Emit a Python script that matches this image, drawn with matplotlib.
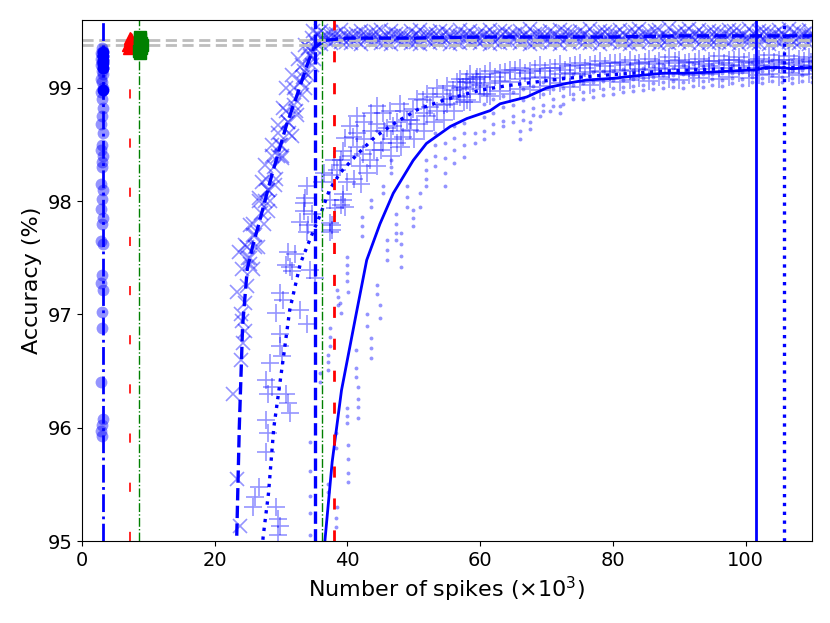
import matplotlib
matplotlib.use("Agg")
import matplotlib.pyplot as plt

# ---------------- data ----------------
# mean curves
dash_x = [22.6, 23.3, 23.7, 24.2, 24.9, 25.7, 26.6, 28.6, 30.8, 32.6, 33.9, 34.9, 36.6, 40, 50, 60, 70, 80, 90, 100, 110]
dash_y = [94.0, 95.0, 96.0, 96.9, 97.4, 97.6, 97.79, 98.23, 98.67, 98.97, 99.2, 99.35, 99.42, 99.44, 99.44, 99.45, 99.45, 99.45, 99.46, 99.46, 99.46]

dot_line_x = [26.8, 27.3, 28.1, 28.9, 30.3, 31.3, 32.9, 34.4, 35.9, 37.3, 38.9, 41.4, 44.2, 47.4, 50.6, 54.4, 57.5, 60, 64, 68, 73, 78, 83, 88, 92.6, 97, 101, 105, 110]
dot_line_y = [94.7, 95.04, 95.42, 96.0, 96.6, 97.04, 97.45, 97.67, 97.88, 98.1, 98.25, 98.41, 98.57, 98.70, 98.81, 98.89, 98.94, 98.98, 99.02, 99.05, 99.085, 99.11, 99.13, 99.15, 99.16, 99.17, 99.17, 99.18, 99.18]

solid_x = [36.3, 36.6, 37.7, 39.1, 41.3, 42.9, 44.9, 46.9, 49.9, 51.9, 55.5, 58, 61.5, 63, 67, 70, 73, 76, 80, 84, 87.6, 91, 95, 98, 101.6, 103, 105, 107, 110]
solid_y = [94.7, 95.0, 95.7, 96.33, 97.0, 97.48, 97.8, 98.07, 98.36, 98.51, 98.66, 98.73, 98.8, 98.86, 98.92, 99.0, 99.04, 99.07, 99.085, 99.11, 99.13, 99.13, 99.14, 99.15, 99.16, 99.18, 99.18, 99.17, 99.18]

# individual runs: 'x' markers
cross_rise_x = [22.8, 23.3, 23.8, 23.3, 24.1, 24.6, 24.3, 25.3, 23.6, 24.0, 24.5, 23.9, 24.8,
                24.6, 25.3, 26.6, 27.1, 27.6, 28.6, 29.6, 30.3, 30.8, 31.6, 32.6, 33.6, 34.6,
                26.0, 28.1, 29.1, 30.1, 31.6, 32.4, 33.1, 34.1, 34.9,
                25.0, 25.8, 27.5, 28.0, 29.5, 30.0, 31.0, 32.0, 33.0, 33.5, 34.3, 35.2, 35.5, 34.8, 35.0,
                24.1, 24.9, 25.8, 26.7, 27.7, 28.6, 29.6, 30.7, 32.0, 33.1, 34.1,
                25.7, 26.5, 27.4, 28.3, 29.3, 30.2, 31.2, 32.3, 33.6, 34.7,
                25.3, 26.1, 27.0, 28.0, 29.0, 29.9, 31.0, 32.1, 33.3, 34.4]
cross_rise_y = [96.30, 95.55, 95.13, 97.20, 96.94, 96.85, 96.75, 97.45, 97.55, 97.00, 97.10, 96.60, 97.25,
                97.61, 97.79, 98.03, 98.17, 98.32, 98.50, 98.67, 98.82, 99.00, 99.11, 99.26, 99.38, 99.44,
                97.60, 97.91, 98.14, 98.38, 98.58, 98.76, 98.94, 99.11, 99.26,
                97.50, 97.70, 98.00, 98.10, 98.40, 98.50, 98.70, 98.85, 99.05, 99.15, 99.30, 99.40, 99.48, 99.50, 99.36,
                97.40, 97.60, 97.80, 98.00, 98.20, 98.40, 98.60, 98.80, 99.00, 99.20, 99.35,
                97.40, 97.60, 97.80, 98.00, 98.20, 98.40, 98.60, 98.80, 99.00, 99.20,
                97.50, 97.70, 97.90, 98.10, 98.30, 98.50, 98.70, 98.90, 99.10, 99.28]

plateau_x = [36, 37.5, 39, 40.5, 42, 43.5, 45, 46.5, 48, 49.5, 51, 52.5, 54, 55.5, 57, 58.5, 60, 61.5, 63, 64.5,
             66, 67.5, 69, 70.5, 72, 73.5, 75, 76.5, 78, 79.5, 81, 82.5, 84, 85.5, 87, 88.5, 90, 91.5, 93, 94.5,
             96, 97.5, 99, 100.5, 102, 103.5, 105, 106.5, 108, 109.5]
cross_hi = [99.50, 99.49, 99.51, 99.48, 99.50, 99.49, 99.51, 99.50, 99.48, 99.50, 99.51, 99.49, 99.50, 99.48, 99.51,
            99.50, 99.49, 99.51, 99.50, 99.48, 99.50, 99.52, 99.49, 99.50, 99.51, 99.49, 99.50, 99.52, 99.50, 99.49,
            99.51, 99.50, 99.52, 99.49, 99.51, 99.53, 99.50, 99.52, 99.51, 99.50, 99.49, 99.51, 99.50, 99.52, 99.50,
            99.49, 99.51, 99.52, 99.50, 99.51]
cross_mid = [99.44, 99.46, 99.45, 99.44, 99.46, 99.45, 99.44, 99.46, 99.45, 99.44, 99.45, 99.46, 99.44, 99.45, 99.46,
             99.45, 99.44, 99.46, 99.45, 99.46, 99.44, 99.45, 99.46, 99.45, 99.44, 99.46, 99.45, 99.44, 99.46, 99.45,
             99.46, 99.44, 99.45, 99.46, 99.45, 99.44, 99.46, 99.45, 99.46, 99.44, 99.45, 99.46, 99.45, 99.44, 99.46,
             99.45, 99.46, 99.44, 99.45, 99.46]
cross_lo = [99.39, 99.40, 99.41, 99.40, 99.39, 99.41, 99.40, 99.39, 99.41, 99.40, 99.39, 99.40, 99.41, 99.39, 99.40,
            99.41, 99.40, 99.39, 99.40, 99.41, 99.40, 99.39, 99.41, 99.40, 99.39, 99.40, 99.41, 99.40, 99.39, 99.41,
            99.40, 99.39, 99.40, 99.41, 99.39, 99.40, 99.41, 99.40, 99.39, 99.40, 99.41, 99.40, 99.39, 99.41, 99.40,
            99.39, 99.40, 99.41, 99.40, 99.39]
plateau_x2 = [36.8, 38.3, 39.8, 41.3, 42.8, 44.3, 45.8, 47.3, 48.8, 50.3, 51.8, 53.3, 54.8, 56.3, 57.8, 59.3, 60.8,
              62.3, 63.8, 65.3, 66.8, 68.3, 69.8, 71.3, 72.8, 74.3, 75.8, 77.3, 78.8, 80.3, 81.8, 83.3, 84.8, 86.3,
              87.8, 89.3, 90.8, 92.3, 93.8, 95.3, 96.8, 98.3, 99.8, 101.3, 102.8, 104.3, 105.8, 107.3, 108.8, 109.9]
cross_r2a = [99.47, 99.48, 99.46, 99.48, 99.47, 99.49, 99.47, 99.48, 99.46, 99.48, 99.47, 99.48, 99.49, 99.47, 99.48,
             99.46, 99.48, 99.47, 99.49, 99.48, 99.47, 99.48, 99.46, 99.48, 99.49, 99.47, 99.48, 99.47, 99.49, 99.48,
             99.47, 99.49, 99.48, 99.50, 99.47, 99.48, 99.49, 99.48, 99.47, 99.49, 99.48, 99.50, 99.47, 99.48, 99.49,
             99.48, 99.47, 99.49, 99.48, 99.47]
cross_r2b = [99.42, 99.43, 99.41, 99.42, 99.43, 99.42, 99.41, 99.43, 99.42, 99.41, 99.43, 99.42, 99.42, 99.41, 99.43,
             99.42, 99.43, 99.41, 99.42, 99.43, 99.42, 99.41, 99.43, 99.42, 99.42, 99.43, 99.41, 99.42, 99.43, 99.42,
             99.41, 99.42, 99.43, 99.42, 99.41, 99.43, 99.42, 99.42, 99.43, 99.41, 99.42, 99.43, 99.42, 99.41, 99.42,
             99.43, 99.42, 99.41, 99.43, 99.42]

# individual runs: '+' markers
plus_rise_x = [25.8, 26.1, 26.6, 29.3, 29.6, 29.8, 29.6, 27.8, 28.1, 27.8, 27.8, 28.6, 28.1, 28.3,
               30.8, 31.1, 31.3, 29.8, 29.8, 30.1, 29.3, 29.8, 30.3, 32.9, 33.9, 31.3, 31.6, 34.4, 35.1,
               31.1, 32.1, 30.8, 33.6, 33.4, 32.9, 34.1, 33.9, 36.1, 37.6, 38.1, 37.6, 37.4,
               38.9, 39.4, 39.6, 39.9, 39.4, 39.1, 33.9, 33.4, 34.6, 36.4, 37.9, 38.4, 37.4, 39.1, 39.4, 39.6,
               37.4, 37.6, 40.4, 40.9, 41.4, 42.4, 43.4, 44.4, 41.9,
               44.4, 45.4, 46.4, 47.9, 48.9, 48.4, 45.4, 46.9, 49.9, 51.4, 52.9, 54.4, 55.9, 57.4, 58.9, 60.5,
               61.0, 58.0, 55.0, 52.0, 49.4, 47.4, 45.0, 46.5, 48.0, 50.0, 51.5, 53.0, 54.5, 56.0, 41.5, 42.5, 43.5,
               42.5, 43.5, 44.5, 45.5, 46.5, 47.5, 48.5, 49.5, 50.5, 51.5, 52.5, 53.5, 54.5, 55.5, 56.5, 57.5,
               44.0, 46.0, 48.0, 50.5, 52.0, 53.5, 55.0, 56.5, 58.0, 59.5, 41.0, 42.0, 43.0, 40.5, 41.5]
plus_rise_y = [95.30, 95.39, 95.48, 95.30, 95.19, 95.13, 95.05, 95.79, 95.95, 96.07, 96.42, 96.36, 96.30, 96.57,
               96.30, 96.22, 96.13, 96.83, 96.72, 96.63, 97.01, 97.19, 97.13, 97.04, 96.92, 97.42, 97.38, 97.39, 97.32,
               97.55, 97.53, 97.44, 98.03, 97.91, 97.82, 97.79, 97.73, 98.17, 98.23, 97.94, 97.79, 97.73,
               98.32, 98.44, 98.56, 98.17, 98.06, 97.97, 98.13, 97.98, 97.89, 98.25, 98.36, 98.28, 98.01, 98.36, 98.01, 97.95,
               97.81, 97.75, 98.66, 98.57, 98.48, 98.42, 98.36, 98.31, 98.31,
               98.84, 98.78, 98.80, 98.86, 98.72, 98.57, 98.51, 98.66, 98.81, 98.89, 98.92, 98.95, 98.98, 99.01, 99.04, 99.01,
               98.95, 98.89, 98.86, 98.75, 98.63, 98.51, 98.45, 98.40, 98.48, 98.55, 98.62, 98.70, 98.72, 98.80, 98.75, 98.70, 98.78,
               98.55, 98.62, 98.68, 98.62, 98.55, 98.70, 98.80, 98.72, 98.68, 98.78, 98.83, 98.80, 98.85, 98.90, 98.93, 98.88,
               98.45, 98.65, 98.62, 98.90, 98.95, 99.00, 99.02, 99.05, 99.08, 99.10, 98.20, 98.15, 98.25, 98.40, 98.60]

plus_plat_x = [57, 58.5, 60, 61.5, 63, 64.5, 66, 67.5, 69, 70.5, 72, 73.5, 75, 76.5, 78, 79.5, 81, 82.5, 84, 85.5,
               87, 88.5, 90, 91.5, 93, 94.5, 96, 97.5, 99, 100.5, 102, 103.5, 105, 106.5, 108, 109.5]
plus_hi = [99.08, 99.12, 99.10, 99.15, 99.13, 99.16, 99.18, 99.15, 99.20, 99.18, 99.21, 99.19, 99.22, 99.20, 99.24,
           99.22, 99.23, 99.25, 99.22, 99.26, 99.24, 99.27, 99.25, 99.23, 99.26, 99.24, 99.28, 99.25, 99.27, 99.24,
           99.26, 99.29, 99.25, 99.28, 99.26, 99.27]
plus_mid = [99.00, 98.99, 99.03, 99.04, 99.06, 99.05, 99.08, 99.09, 99.10, 99.09, 99.12, 99.13, 99.12, 99.14, 99.15,
            99.14, 99.16, 99.15, 99.17, 99.16, 99.18, 99.17, 99.19, 99.18, 99.17, 99.19, 99.18, 99.20, 99.19, 99.18,
            99.20, 99.19, 99.21, 99.18, 99.20, 99.19]
plus_lo = [98.92, 98.88, 98.95, 98.93, 98.97, 98.95, 98.99, 99.01, 98.98, 99.02, 99.04, 99.01, 99.05, 99.03, 99.06,
           99.08, 99.05, 99.07, 99.09, 99.06, 99.10, 99.08, 99.07, 99.11, 99.09, 99.12, 99.08, 99.10, 99.13, 99.09,
           99.11, 99.12, 99.10, 99.13, 99.11, 99.12]
plus_plat_x2 = [57.8, 59.3, 60.8, 62.3, 63.8, 65.3, 66.8, 68.3, 69.8, 71.3, 72.8, 74.3, 75.8, 77.3, 78.8, 80.3, 81.8,
                83.3, 84.8, 86.3, 87.8, 89.3, 90.8, 92.3, 93.8, 95.3, 96.8, 98.3, 99.8, 101.3, 102.8, 104.3, 105.8,
                107.3, 108.8, 109.9]
plus_r2 = [99.05, 99.08, 99.12, 99.10, 99.14, 99.16, 99.13, 99.17, 99.15, 99.18, 99.16, 99.20, 99.18, 99.21, 99.19,
           99.22, 99.20, 99.21, 99.23, 99.21, 99.22, 99.24, 99.22, 99.23, 99.21, 99.24, 99.22, 99.25, 99.23, 99.22,
           99.24, 99.23, 99.25, 99.22, 99.24, 99.23]

# individual runs: small dots
dots_rise_x = [34.4, 34.4, 34.4, 34.4, 34.4, 35.9, 35.9, 37.0, 37.0, 38.2, 38.2, 38.4,
               37.1, 37.1, 37.1, 37.4, 37.4, 37.4, 38.4, 38.6, 38.6, 39.1, 38.9,
               38.3, 38.3, 40.1, 40.1, 40.1, 40.1, 40.0, 40.0, 40.0,
               39.9, 39.9, 39.9, 39.9, 40.1, 41.3, 41.3, 41.3, 41.6, 41.6, 41.6, 41.6,
               42.2, 42.2, 42.2, 42.9, 42.9, 43.5, 43.5, 43.5, 43.5, 43.5,
               44.4, 44.4, 44.9, 44.9, 45.3, 45.3, 45.9, 45.9, 45.9, 46.5, 46.5, 46.5,
               47.3, 47.3, 47.3, 47.3, 48.0, 48.0, 48.0, 48.0, 48.9, 48.9, 48.9,
               49.9, 49.9, 49.9, 50.9, 50.9, 51.8, 51.8, 51.8, 51.8, 53.2, 53.2, 53.2, 53.2,
               54.7, 54.7, 54.7, 54.7, 56.1, 56.1, 56.1, 56.1, 57.6, 57.6, 57.6, 57.6, 59.2, 59.2,
               66.0, 66.0, 67.5, 67.5, 69.0, 70.5, 72.0, 72.0]
dots_rise_y = [95.05, 95.25, 95.40, 95.62, 95.87, 96.48, 96.40, 95.43, 95.50, 95.20, 95.12, 95.30,
               96.64, 96.58, 96.51, 96.88, 96.80, 96.72, 97.22, 97.15, 97.08, 97.01, 97.10,
               95.95, 95.82, 95.85, 95.72, 95.60, 95.52, 96.17, 96.10, 96.04,
               97.51, 97.44, 97.37, 97.30, 97.20, 96.69, 96.53, 96.45, 96.36, 96.25, 96.18, 96.09,
               97.86, 97.78, 97.69, 97.00, 96.90, 96.79, 96.70, 96.62, 98.01, 97.95,
               97.26, 97.18, 97.08, 96.97, 98.13, 98.07, 97.66, 97.57, 97.48, 98.36, 98.30, 98.25,
               97.89, 97.80, 97.72, 97.66, 97.72, 97.62, 97.52, 97.42, 98.13, 98.04, 97.95,
               97.92, 97.85, 97.78, 98.07, 97.95, 98.36, 98.28, 98.20, 98.13, 98.60, 98.50, 98.40, 98.31,
               98.51, 98.38, 98.25, 98.13, 98.66, 98.56, 98.45, 98.34, 98.69, 98.60, 98.50, 98.39, 98.60, 98.51,
               98.62, 98.55, 98.70, 98.64, 98.75, 98.80, 98.78, 98.84]

dots_plat_x = [60.5, 62, 63.5, 65, 66.5, 68, 69.5, 71, 72.5, 74, 75.5, 77, 78.5, 80, 81.5, 83, 84.5, 86, 87.5, 89,
               90.5, 92, 93.5, 95, 96.5, 98, 99.5, 101, 102.5, 104, 105.5, 107, 108.5, 110]
dots_hi = [98.86, 98.90, 98.93, 98.96, 98.99, 99.02, 99.05, 99.08, 99.10, 99.12, 99.12, 99.14, 99.15, 99.15, 99.17,
           99.16, 99.18, 99.19, 99.20, 99.18, 99.20, 99.21, 99.19, 99.21, 99.22, 99.20, 99.22, 99.23, 99.24, 99.25,
           99.23, 99.24, 99.25, 99.24]
dots_mid = [98.74, 98.78, 98.83, 98.85, 98.89, 98.91, 98.95, 98.99, 99.00, 99.03, 99.04, 99.05, 99.06, 99.07, 99.07,
            99.08, 99.09, 99.10, 99.11, 99.11, 99.12, 99.11, 99.12, 99.12, 99.13, 99.13, 99.14, 99.14, 99.15, 99.16,
            99.16, 99.15, 99.16, 99.16]
dots_lo = [98.62, 98.68, 98.71, 98.75, 98.80, 98.82, 98.85, 98.90, 98.93, 98.95, 98.96, 98.98, 98.99, 99.00, 99.01,
           99.02, 99.03, 99.04, 99.05, 99.06, 99.05, 99.07, 99.06, 99.08, 99.07, 99.09, 99.08, 99.10, 99.09, 99.11,
           99.10, 99.09, 99.11, 99.10]
dots_lo2 = [98.55, 98.60, 98.66, 98.70, 98.72, 98.76, 98.80, 98.84, 98.86, 98.90, 98.90, 98.92, 98.94, 98.95, 98.96,
            98.97, 98.98, 98.99, 99.00, 99.01, 99.00, 99.02, 99.01, 99.03, 99.02, 99.04, 99.03, 99.05, 99.04, 99.06,
            99.05, 99.04, 99.06, 99.05]

# circles at ~3k spikes
circ_x = [3.0, 3.1, 2.9, 3.0, 3.2, 2.9, 3.1, 3.0, 2.9, 3.1, 3.0, 3.2, 2.9, 3.0, 3.1, 2.9, 3.0, 3.1, 3.0, 2.9, 3.1,
          3.0, 2.9, 3.1, 3.0, 3.0, 2.9, 3.1, 3.0, 2.9, 3.1, 3.0, 2.9, 3.1, 3.0, 2.9, 3.1, 3.0, 3.0, 2.9, 3.1, 3.0, 2.9, 3.0]
circ_y = [99.35, 99.33, 99.31, 99.30, 99.28, 99.26, 99.24, 99.22, 99.20, 99.18, 99.15, 99.12, 99.08, 99.05, 99.00,
          98.96, 98.90, 98.82, 98.75, 98.68, 98.60, 98.50, 98.45, 98.40, 98.35, 98.30, 98.15, 98.10, 98.02, 97.93,
          97.85, 97.80, 97.65, 97.62, 97.35, 97.28, 97.22, 97.02, 96.88, 96.40, 96.08, 96.02, 95.97, 95.93]
circ_dark_x = [3.1, 3.1, 3.1, 3.1, 3.1, 3.1]
circ_dark_y = [99.32, 99.28, 99.25, 99.22, 99.18, 98.98]

tri_x = [7.0, 7.2, 7.4, 7.5, 7.3, 7.6, 7.1, 7.4]
tri_y = [99.38, 99.42, 99.40, 99.36, 99.44, 99.39, 99.35, 99.43]
sq_x = [8.6, 8.8, 8.9, 8.7, 9.0, 8.8, 8.7, 8.9]
sq_y = [99.33, 99.36, 99.40, 99.43, 99.38, 99.31, 99.45, 99.35]

ref_levels = [99.42, 99.38]
vlines = {"blue_dashdot": 3.1, "red_a": 7.2, "green_a": 8.6, "blue_dash": 35.1,
          "green_b": 36.1, "red_b": 37.9, "blue_solid": 101.6, "blue_dot": 105.8}

# ---------------- plot ----------------
fig = plt.figure(figsize=(8.30, 6.23), dpi=100)
ax = fig.add_axes([82 / 830, 1 - 541 / 623, 730 / 830, 521 / 623])

light = dict(color="blue", alpha=0.42, linestyle="none")

# dots
ax.plot(dots_rise_x, dots_rise_y, marker="o", markersize=2.8, markeredgewidth=0, **light)
for yy in (dots_hi, dots_mid, dots_lo, dots_lo2):
    ax.plot(dots_plat_x, yy, marker="o", markersize=2.8, markeredgewidth=0, **light)
# plus
ax.plot(plus_rise_x, plus_rise_y, marker="+", markersize=13, markeredgewidth=1.2, **light)
for yy in (plus_hi, plus_mid, plus_lo):
    ax.plot(plus_plat_x, yy, marker="+", markersize=13, markeredgewidth=1.2, **light)
ax.plot(plus_plat_x2, plus_r2, marker="+", markersize=13, markeredgewidth=1.2, **light)
# crosses
ax.plot(cross_rise_x, cross_rise_y, marker="x", markersize=10, markeredgewidth=1.2, **light)
for yy in (cross_hi, cross_mid, cross_lo):
    ax.plot(plateau_x, yy, marker="x", markersize=10, markeredgewidth=1.2, **light)
for yy in (cross_r2a, cross_r2b):
    ax.plot(plateau_x2, yy, marker="x", markersize=10, markeredgewidth=1.2, **light)

# gray reference lines
for lv in ref_levels:
    ax.axhline(lv, color="#bdbdbd", linestyle="--", linewidth=2.0, dashes=(4.0, 2.0))

# circles / triangles / squares
ax.plot(circ_x, circ_y, marker="o", markersize=8.5, markeredgewidth=0, **light)
ax.plot(circ_dark_x, circ_dark_y, marker="o", markersize=8.5, markeredgewidth=0, color="blue", linestyle="none")
ax.plot(tri_x, tri_y, marker="^", markersize=9, color="red", linestyle="none")
ax.plot(sq_x, sq_y, marker="s", markersize=8, color="green", linestyle="none")

# mean curves
ax.plot(dash_x, dash_y, color="blue", linestyle="--", linewidth=2.4)
ax.plot(dot_line_x, dot_line_y, color="blue", linestyle=":", linewidth=2.4)
ax.plot(solid_x, solid_y, color="blue", linestyle="-", linewidth=2.0)

# vertical markers
ax.axvline(vlines["blue_dashdot"], color="blue", linestyle="-.", linewidth=2.0)
ax.axvline(vlines["red_a"], color="red", linestyle=(0, (5.5, 24)), linewidth=1.2)
ax.axvline(vlines["green_a"], color="green", linestyle="-.", linewidth=1.0)
ax.axvline(vlines["blue_dash"], color="blue", linestyle="--", linewidth=2.4)
ax.axvline(vlines["green_b"], color="green", linestyle="-.", linewidth=1.0)
ax.axvline(vlines["red_b"], color="red", linestyle=(0, (4, 7.5)), linewidth=2.0)
ax.axvline(vlines["blue_solid"], color="blue", linestyle="-", linewidth=2.0)
ax.axvline(vlines["blue_dot"], color="blue", linestyle=":", linewidth=2.4)

ax.set_xlim(0, 110)
ax.set_ylim(95, 99.6)
ax.set_xticks([0, 20, 40, 60, 80, 100])
ax.set_yticks([95, 96, 97, 98, 99])
ax.tick_params(labelsize=14)
ax.set_xlabel(r"Number of spikes ($\times 10^3$)", fontsize=16)
ax.set_ylabel("Accuracy (%)", fontsize=16)

fig.savefig("out.png", dpi=100)
